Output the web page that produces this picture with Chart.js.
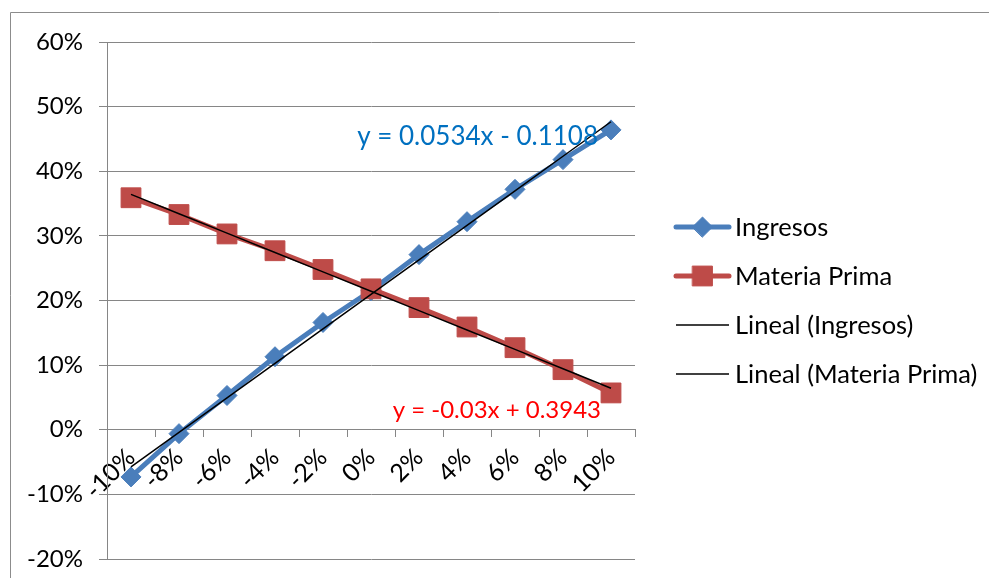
<!DOCTYPE html>
<html>
<head>
<meta charset="utf-8">
<script src="https://cdn.jsdelivr.net/npm/chart.js@4.4.1/dist/chart.umd.min.js"></script>
<style>
  html, body { margin: 0; padding: 0; background: #ffffff; }
  #wrap { width: 989px; height: 578px; }
</style>
</head>
<body>
<div id="wrap"><canvas id="c" width="989" height="578"></canvas></div>
<script>
// Sensitivity categories (change applied) and resulting values
const categories = ['-10%', '-8%', '-6%', '-4%', '-2%', '0%', '2%', '4%', '6%', '8%', '10%'];
const ingresos = [-0.073, -0.006, 0.053, 0.113, 0.166, 0.215, 0.271, 0.322, 0.372, 0.418, 0.464];
const materiaPrima = [0.359, 0.333, 0.303, 0.277, 0.248, 0.218, 0.189, 0.159, 0.127, 0.093, 0.057];

// Linear trend coefficients (x = 1..n over the categories)
const trendIngresos = { slope: 0.0534, intercept: -0.1108 };
const trendMateria = { slope: -0.03, intercept: 0.3943 };

// Value axis range
const yMin = -0.2;
const yMax = 0.6;
const yStep = 0.1;

const seriesNames = ['Ingresos', 'Materia Prima', 'Lineal (Ingresos)', 'Lineal (Materia Prima)'];
const equationTexts = ['y = 0.0534x - 0.1108', 'y = -0.03x + 0.3943'];

const trendValues = t => categories.map((_, i) => t.slope * (i + 1) + t.intercept);

const FONT = 'Lato, Carlito, "Open Sans", sans-serif';
const GRID = '#868686';

// Outer chart frame
const framePlugin = {
  id: 'frame',
  beforeDraw(chart) {
    const ctx = chart.ctx;
    ctx.save();
    ctx.strokeStyle = '#8c8c8c';
    ctx.lineWidth = 1;
    ctx.beginPath();
    ctx.moveTo(10.5, 578);
    ctx.lineTo(10.5, 12.5);
    ctx.lineTo(989, 12.5);
    ctx.stroke();
    ctx.restore();
  }
};

// Legend drawn with line + marker samples
const legendPlugin = {
  id: 'sideLegend',
  afterDraw(chart, args, opts) {
    const ctx = chart.ctx;
    ctx.save();
    chart.data.datasets.forEach((ds, i) => {
      const y = opts.top + i * opts.rowGap;
      ctx.strokeStyle = ds.borderColor;
      ctx.lineWidth = ds.borderWidth;
      ctx.lineCap = ds.borderWidth > 2 ? 'round' : 'butt';
      ctx.beginPath();
      ctx.moveTo(opts.x0, y);
      ctx.lineTo(opts.x1, y);
      ctx.stroke();
      if (ds.pointRadius > 0) {
        ctx.fillStyle = ds.pointBackgroundColor;
        ctx.strokeStyle = ds.pointBorderColor;
        ctx.lineWidth = 1;
        Chart.helpers.drawPoint(ctx, {
          pointStyle: ds.pointStyle,
          rotation: 0,
          borderWidth: 1,
          radius: ds.pointRadius
        }, (opts.x0 + opts.x1) / 2, y);
      }
      ctx.fillStyle = '#000000';
      ctx.font = opts.fontSize + 'px ' + FONT;
      ctx.textAlign = 'left';
      ctx.textBaseline = 'middle';
      ctx.fillText(ds.label, opts.textX, y + 1);
    });
    ctx.restore();
  }
};

// Trend equation labels
const equationPlugin = {
  id: 'equations',
  afterDraw(chart, args, opts) {
    const ctx = chart.ctx;
    ctx.save();
    ctx.textAlign = 'right';
    ctx.textBaseline = 'middle';
    opts.items.forEach(it => {
      ctx.font = it.size + 'px ' + FONT;
      ctx.fillStyle = it.color;
      ctx.fillText(it.text, it.x, it.y);
    });
    ctx.restore();
  }
};

new Chart(document.getElementById('c'), {
  type: 'line',
  data: {
    labels: categories,
    datasets: [
      {
        label: seriesNames[0],
        data: ingresos,
        borderColor: '#4a7ebb',
        backgroundColor: '#4a7ebb',
        borderWidth: 5,
        pointStyle: 'rectRot',
        pointRadius: 10,
        pointBackgroundColor: '#4a7ebb',
        pointBorderColor: '#4a7ebb',
        pointBorderWidth: 1,
        tension: 0,
        order: 2
      },
      {
        label: seriesNames[1],
        data: materiaPrima,
        borderColor: '#be4b48',
        backgroundColor: '#be4b48',
        borderWidth: 5,
        pointStyle: 'rect',
        pointRadius: 14,
        pointBackgroundColor: '#be4b48',
        pointBorderColor: '#be4b48',
        pointBorderWidth: 1,
        tension: 0,
        order: 1
      },
      {
        label: seriesNames[2],
        data: trendValues(trendIngresos),
        borderColor: '#000000',
        borderWidth: 1.5,
        pointRadius: 0,
        tension: 0,
        order: 0
      },
      {
        label: seriesNames[3],
        data: trendValues(trendMateria),
        borderColor: '#000000',
        borderWidth: 1.5,
        pointRadius: 0,
        tension: 0,
        order: 0
      }
    ]
  },
  options: {
    responsive: false,
    animation: false,
    devicePixelRatio: 1,
    layout: { padding: { left: 10, top: 42, right: 354, bottom: 19 } },
    plugins: {
      legend: { display: false },
      tooltip: { enabled: false },
      sideLegend: { x0: 676, x1: 729, textX: 735, top: 227, rowGap: 49, fontSize: 25.5 },
      equations: {
        items: [
          { text: equationTexts[0], x: 598, y: 137, color: '#0070c0', size: 26 },
          { text: equationTexts[1], x: 601, y: 410, color: '#ff0000', size: 24 }
        ]
      }
    },
    scales: {
      x: {
        type: 'category',
        offset: true,
        position: { y: 0 },
        grid: {
          display: true,
          drawOnChartArea: false,
          drawTicks: true,
          tickLength: 7,
          color: GRID,
          offset: true
        },
        border: { display: true, color: GRID, width: 1 },
        ticks: {
          minRotation: 45,
          maxRotation: 45,
          autoSkip: false,
          padding: 6,
          color: '#000000',
          font: { family: FONT, size: 25 }
        },
        afterFit(scale) {
          scale.height = 0;
          scale.paddingLeft = 0;
          scale.paddingRight = 0;
          scale.paddingTop = 0;
          scale.paddingBottom = 0;
        }
      },
      y: {
        min: yMin,
        max: yMax,
        grid: { color: GRID, tickLength: 8, lineWidth: 1 },
        border: { display: true, color: GRID, width: 1 },
        ticks: {
          stepSize: yStep,
          padding: 16,
          color: '#000000',
          font: { family: FONT, size: 24 },
          callback: v => Math.round(v * 100) + '%'
        },
        afterFit(scale) {
          scale.width = 97;
          scale.paddingTop = 0;
          scale.paddingBottom = 0;
        }
      }
    }
  },
  plugins: [framePlugin, legendPlugin, equationPlugin]
});
</script>
</body>
</html>
